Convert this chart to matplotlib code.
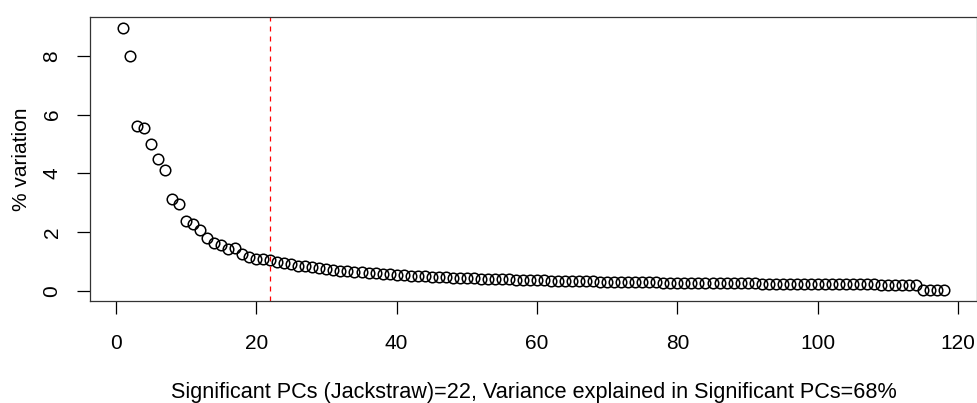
import numpy
import matplotlib
matplotlib.use('Agg')
import matplotlib.pyplot as plt

# percent of variance per principal component
pc_variance = [
    8.97, 8.00, 5.61, 5.55, 5.00, 4.50, 4.12, 3.14, 2.94, 2.38,
    2.29, 2.08, 1.80, 1.64, 1.57, 1.44, 1.47, 1.25, 1.16, 1.08,
    1.07, 1.05, 0.98, 0.93, 0.90, 0.86, 0.83, 0.80, 0.77, 0.74,
    0.71, 0.69, 0.67, 0.65, 0.63, 0.61, 0.59, 0.57, 0.56, 0.54,
    0.53, 0.51, 0.50, 0.49, 0.48, 0.47, 0.46, 0.45, 0.44, 0.43,
    0.42, 0.41, 0.40, 0.395, 0.39, 0.385, 0.38, 0.37, 0.365, 0.36,
    0.355, 0.35, 0.345, 0.34, 0.335, 0.33, 0.325, 0.32, 0.315, 0.31,
    0.305, 0.30, 0.297, 0.294, 0.29, 0.287, 0.284, 0.28, 0.277, 0.274,
    0.272, 0.270, 0.267, 0.265, 0.262, 0.260, 0.257, 0.255, 0.252, 0.250,
    0.248, 0.246, 0.244, 0.242, 0.240, 0.238, 0.236, 0.234, 0.232, 0.230,
    0.228, 0.226, 0.224, 0.222, 0.220, 0.218, 0.216, 0.214, 0.212, 0.210,
    0.208, 0.206, 0.204, 0.200, 0.03, 0.02, 0.02, 0.01,
]
num_significant_pcs = 22
percent_explained = 68

x_ticks = [0, 20, 40, 60, 80, 100, 120]
y_ticks = [0, 2, 4, 6, 8]

plt.rcParams['font.family'] = ['Liberation Sans', 'DejaVu Sans']

fig = plt.figure(figsize=(9.78, 4.03), dpi=100)
axes = fig.add_axes([90 / 978, 102 / 403, 887 / 978, 284 / 403])

pcs = numpy.arange(1, len(pc_variance) + 1)
axes.plot(pcs, pc_variance, linestyle='none', marker='o', markersize=7.6,
          markerfacecolor='none', markeredgecolor='black', markeredgewidth=1.1)
axes.margins(0.04)

axes.axvline(num_significant_pcs, color='red', linewidth=0.9, dashes=(4, 4))

axes.set_xticks(x_ticks)
axes.set_yticks(y_ticks)
axes.set_yticklabels([str(t) for t in y_ticks], rotation=90, va='center')
axes.tick_params(direction='out', length=9.5, width=0.9, labelsize=15)
axes.tick_params(axis='x', pad=14)
axes.tick_params(axis='y', pad=11)
for spine in axes.spines.values():
    spine.set_linewidth(0.9)
    spine.set_color('#333333')

axes.set_ylabel('% variation', fontsize=15, labelpad=8)
axes.set_xlabel(f'Significant PCs (Jackstraw)={num_significant_pcs}, '
                f'Variance explained in Significant PCs={percent_explained}%',
                fontsize=15.6, labelpad=21)

fig.savefig('out.png', dpi=100)
